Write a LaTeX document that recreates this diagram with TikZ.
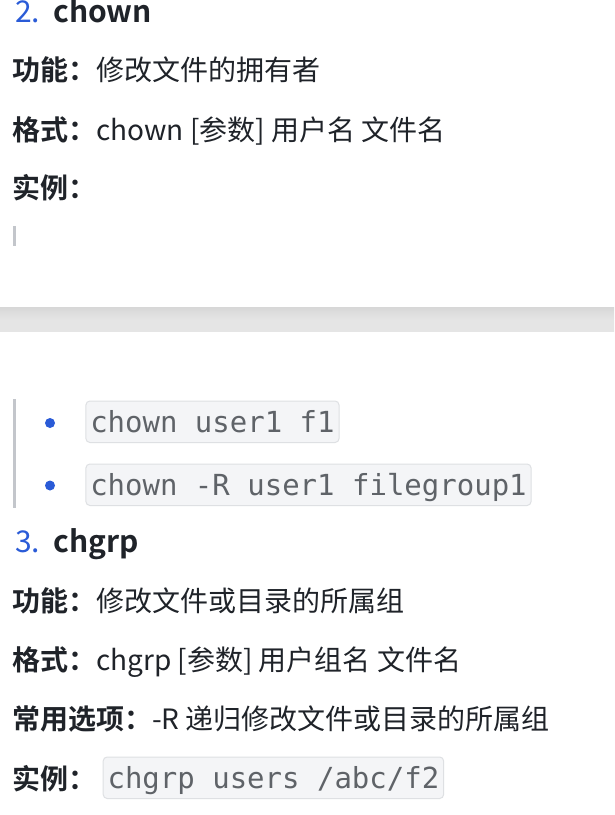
\documentclass[tikz,border=0pt]{standalone}
\usepackage{fontspec}
\setmainfont{Noto Sans CJK SC}[BoldFont={Noto Sans CJK SC Bold}]
\newfontfamily\codefont{DejaVu Sans Mono}
\definecolor{txt}{HTML}{1F2329}
\definecolor{blu}{HTML}{2A5BD7}
\definecolor{codetxt}{HTML}{5F6368}
\definecolor{codebg}{HTML}{F4F5F7}
\definecolor{codeline}{HTML}{DEE0E3}
\definecolor{barc}{HTML}{C3C6CB}
\definecolor{bandtop}{HTML}{D8D8D8}
\definecolor{bandbot}{HTML}{E5E5E5}
\begin{document}
\begin{tikzpicture}[x=1pt,y=-1pt,
  body/.style={anchor=base west,inner sep=0pt,text=txt,font=\fontsize{28}{32}\selectfont},
  head/.style={anchor=base west,inner sep=0pt,text=txt,font=\fontsize{30}{34}\selectfont\bfseries},
  num/.style={anchor=base west,inner sep=0pt,text=blu,font=\fontsize{30}{34}\selectfont},
  code/.style={anchor=base west,inner xsep=4.35pt,inner ysep=0pt,text height=31pt,text depth=10.5pt,
     text=codetxt,fill=codebg,draw=codeline,line width=1pt,rounded corners=4pt,
     font=\codefont\fontsize{29}{32}\selectfont},
  dot/.style={circle,fill=blu,inner sep=0pt,minimum size=10pt},
  bar/.style={fill=barc,draw=none}]
\useasboundingbox (0,0) rectangle (614,815);
\fill[white] (0,0) rectangle (614,815);
% gray band
\shade[top color=bandtop,bottom color=bandbot,middle color=bandbot] (0,307.7) rectangle (614,331.7);
% section 2
\node[num] (n2) at (15,22) {2.};
\node[head] (h2) at (53,22) {chown};
\node[body] (f1) at (12,80) {\textbf{功能：}修改文件的拥有者};
\node[body] (g1) at (12,140) {\textbf{格式：}chown [参数] 用户名 文件名};
\node[body] (e1) at (12,198) {\textbf{实例：}};
\fill[bar] (13,226) rectangle (16,246);
% list
\fill[bar] (12.5,398.5) rectangle (15.5,507.5);
\node[dot] (b1) at (50,423) {};
\node[dot] (b2) at (50,485.5) {};
\node[code] (c1) at (85.4,432) {chown user1 f1};
\node[code] (c2) at (85.4,495) {chown -R user1 filegroup1};
% section 3
\node[num] (n3) at (15,552) {3.};
\node[head] (h3) at (53,552) {chgrp};
\node[body] (f2) at (12,611) {\textbf{功能：}修改文件或目录的所属组};
\node[body] (g2) at (12,670) {\textbf{格式：}chgrp [参数] 用户组名 文件名};
\node[body] (o2) at (12,729) {\textbf{常用选项：}-R 递归修改文件或目录的所属组};
\node[body] (e2) at (12,789) {\textbf{实例：}};
\node[code] (c3) at (102.7,788) {chgrp users /abc/f2};
\end{tikzpicture}
\end{document}
